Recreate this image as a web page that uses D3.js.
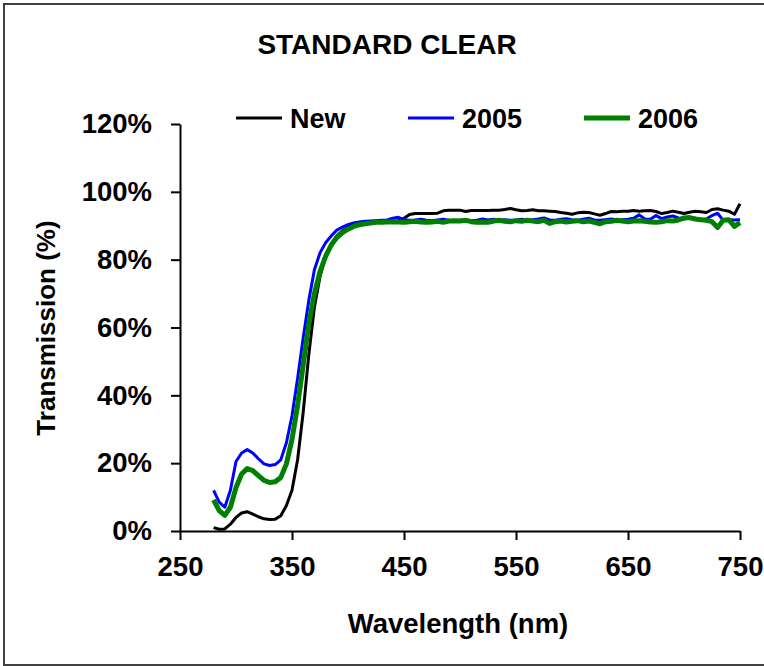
<!DOCTYPE html>
<html>
<head>
<meta charset="utf-8">
<script src="https://cdn.jsdelivr.net/npm/d3@7"></script>
<style>
  body { margin: 0; background: #fff; }
  text { font-family: "Liberation Sans", Arial, sans-serif; font-weight: bold; fill: #000; }
</style>
</head>
<body>
<script>
// wavelengths 280..750 nm, every 5 nm
var wavelengths = d3.range(280, 751, 5);

var seriesNames = ["New", "2005", "2006"];

var newValues = [
  1.0, 0.5, 0.6, 2.0, 4.0, 5.3, 5.7, 5.0, 4.2, 3.6, 3.4, 3.5, 4.5, 7.5, 12, 21, 35, 52, 66, 75,
  81, 84.5, 87, 88.5, 89.5, 90.2, 90.7, 91, 91.2, 91.3, 91.3, 91.4, 91.4, 91.5, 92.2, 93.3, 93.6, 93.6, 93.6, 93.6,
  93.7, 94.4, 94.6, 94.6, 94.6, 94.2, 94.5, 94.5, 94.5, 94.5, 94.6, 94.6, 94.8, 95.1, 94.7, 94.4, 94.5, 94.7, 94.4, 94.4,
  94.3, 94.2, 93.9, 93.7, 93.4, 93.8, 94.0, 93.9, 93.5, 93.1, 93.6, 94.2, 94.1, 94.3, 94.3, 94.5, 94.3, 94.4, 94.5, 94.2,
  93.6, 93.9, 94.3, 94.0, 93.6, 94.0, 94.3, 94.1, 93.9, 94.8, 95.0, 94.6, 94.3, 93.4, 96.5
];

var values2005 = [
  12, 8.5, 7, 12, 20.5, 23, 24, 23, 21.3, 19.8, 19.3, 19.6, 21, 26, 34, 45, 57, 68, 77, 82,
  85, 87, 88.7, 89.6, 90.3, 90.8, 91.1, 91.3, 91.4, 91.5, 91.6, 91.7, 92.2, 92.5, 91.8, 91.6, 91.7, 91.9, 91.6, 91.5,
  91.7, 91.9, 91.6, 91.4, 91.6, 91.8, 91.5, 91.6, 92.0, 91.7, 91.9, 91.6, 91.8, 91.6, 91.7, 91.9, 91.6, 91.8, 92.0, 92.3,
  91.7, 91.6, 91.9, 92.1, 91.8, 91.6, 91.9, 92.2, 91.7, 91.6, 91.8, 92.0, 91.7, 91.8, 91.9, 92.2, 93.2, 92.0, 91.9, 93.0,
  92.1, 92.6, 92.9, 92.3, 92.0, 92.3, 92.2, 91.8, 92.0, 93.0, 93.7, 91.6, 91.8, 91.7, 91.8
];

var values2006 = [
  9.2, 6, 4.6, 7, 12.8, 16.8, 18.4, 17.8, 16.3, 14.9, 14.3, 14.5, 15.8, 19.8, 27, 37, 49, 61, 70, 76.5,
  81, 84.3, 86.5, 88, 89, 89.8, 90.3, 90.6, 90.8, 91, 91, 91.1, 91.1, 91.1, 91, 91.2, 91.3, 91.1, 91.0, 91.1,
  91.3, 91.0, 91.4, 91.5, 91.4, 91.6, 91.2, 91.0, 91.1, 91.0, 91.4, 91.6, 91.3, 91.2, 91.5, 91.3, 91.6, 91.4, 91.2, 91.6,
  90.7, 91.2, 91.4, 91.1, 91.3, 91.5, 91.2, 91.4, 91.0, 90.6, 91.2, 91.3, 91.6, 91.4, 91.2, 91.4, 91.5, 91.3, 91.1, 91.0,
  91.2, 91.5, 91.4, 91.7, 92.3, 92.4, 92.0, 91.8, 91.6, 91.2, 89.5, 91.6, 91.8, 89.8, 90.9
];

var xTicks = [250, 350, 450, 550, 650, 750];
var yTicks = [0, 20, 40, 60, 80, 100, 120];

var colors = ["#000000", "#0000ff", "#008000"];
var widths = [3, 3, 5];

var W = 764, H = 666;
var plotLeft = 180, plotRight = 740, plotTop = 124, plotBottom = 531;

var svg = d3.select("body").append("svg")
    .attr("width", W)
    .attr("height", H);

// outer frame
svg.append("rect")
    .attr("x", 4).attr("y", 4)
    .attr("width", 780).attr("height", 661)
    .attr("fill", "none")
    .attr("stroke", "#404040")
    .attr("stroke-width", 2);

var x = d3.scaleLinear().domain([250, 750]).range([plotLeft, plotRight]);
var y = d3.scaleLinear().domain([0, 120]).range([plotBottom, plotTop]);

// axes
var xAxis = svg.append("g")
    .attr("transform", "translate(0," + plotBottom + ")")
    .call(d3.axisBottom(x).tickValues(xTicks).tickSize(9).tickSizeOuter(0).tickPadding(16));

var yAxis = svg.append("g")
    .attr("transform", "translate(" + plotLeft + ",0)")
    .call(d3.axisLeft(y).tickValues(yTicks).tickSize(9).tickSizeOuter(0).tickPadding(19)
      .tickFormat(function(d) { return d + "%"; }));

[xAxis, yAxis].forEach(function(g) {
  g.select(".domain").attr("stroke", "#000").attr("stroke-width", 2);
  g.selectAll(".tick line").attr("stroke", "#000").attr("stroke-width", 2);
  g.selectAll(".tick text")
    .attr("font-size", 27.5)
    .attr("font-family", "Liberation Sans, Arial, sans-serif")
    .attr("font-weight", "bold")
    .attr("fill", "#000");
});

// lines
var series = [newValues, values2005, values2006];
var line = d3.line()
    .x(function(d, i) { return x(wavelengths[i]); })
    .y(function(d) { return y(d); });

series.forEach(function(vals, k) {
  svg.append("path")
      .datum(vals)
      .attr("d", line)
      .attr("fill", "none")
      .attr("stroke", colors[k])
      .attr("stroke-width", widths[k])
      .attr("stroke-linejoin", "round");
});

// title
svg.append("text")
    .attr("x", 387).attr("y", 54)
    .attr("text-anchor", "middle")
    .attr("font-size", 28)
    .text("STANDARD CLEAR");

// legend
var legendX = [236, 408, 584];
var legend = svg.selectAll(".legend")
    .data(seriesNames)
    .enter().append("g")
    .attr("transform", function(d, i) { return "translate(" + legendX[i] + ",118)"; });

legend.append("line")
    .attr("x1", 0).attr("x2", 46)
    .attr("y1", 0).attr("y2", 0)
    .attr("stroke", function(d, i) { return colors[i]; })
    .attr("stroke-width", function(d, i) { return widths[i]; });

legend.append("text")
    .attr("x", 54).attr("y", 10)
    .attr("font-size", 27)
    .text(function(d) { return d; });

// axis titles
svg.append("text")
    .attr("x", 458).attr("y", 633)
    .attr("text-anchor", "middle")
    .attr("font-size", 27.5)
    .text("Wavelength (nm)");

svg.append("text")
    .attr("transform", "translate(55,328) rotate(-90)")
    .attr("text-anchor", "middle")
    .attr("font-size", 26)
    .text("Transmission (%)");
</script>
</body>
</html>
